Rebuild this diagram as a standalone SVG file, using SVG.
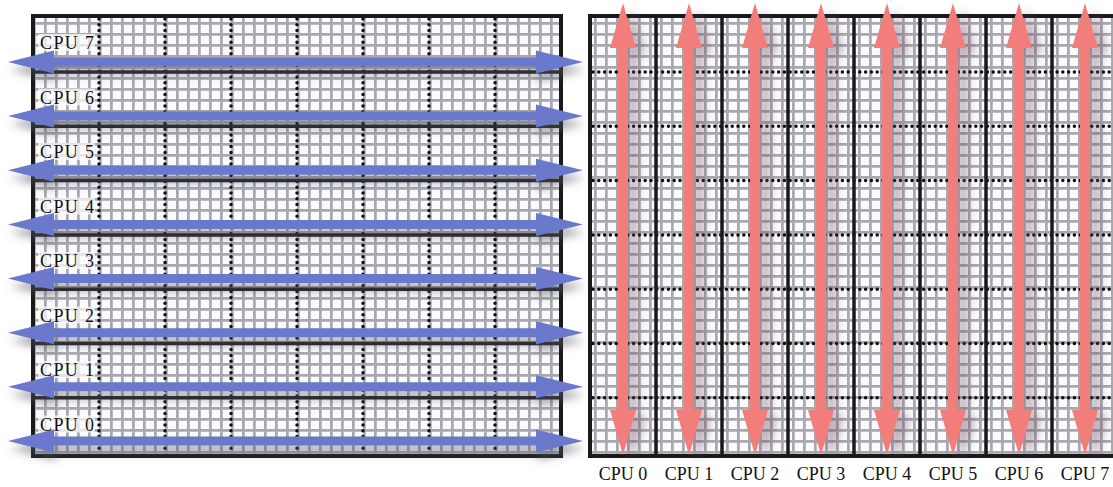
<svg xmlns="http://www.w3.org/2000/svg" width="1113" height="487" viewBox="0 0 1113 487">
<style>
.grid{fill:url(#cells);}
.frame{fill:none;stroke:#1a1a1a;stroke-width:4;}
.div{stroke:#1a1a1a;stroke-width:3.5;}
.dots{stroke:#0d0d0d;stroke-width:3.5;stroke-dasharray:0 5.8;stroke-linecap:round;fill:none;}
.lbl{font-family:"Liberation Serif","DejaVu Serif",serif;fill:#111;}
.lbl-l{font-size:18px;}
.lbl-b{font-size:18px;text-anchor:middle;}
.lblbg{fill:#fff;opacity:0.7;}
.blue{fill:#6b79cc;}
.red{fill:#f27e7c;}
</style>
<defs>
<pattern id="cells" width="11" height="11" patternUnits="userSpaceOnUse">
<rect width="11" height="11" fill="#fbfbfd"/>
<path d="M0 1H11M1 0V11" stroke="#a8a8ae" stroke-width="3.5"/>
</pattern>
<filter id="shB" x="-10%" y="-100%" width="120%" height="400%">
<feDropShadow dx="2" dy="8" stdDeviation="4" flood-color="#555566" flood-opacity="0.5"/>
</filter>
<filter id="shR" x="-150%" y="-10%" width="400%" height="120%">
<feDropShadow dx="10" dy="6" stdDeviation="4" flood-color="#6a4a60" flood-opacity="0.4"/>
</filter>
<polygon id="harrow" points="8,0 54,-11.5 54,-4.5 536,-4.5 536,-11.5 583,0 536,11.5 536,4.5 54,4.5 54,11.5"/>
<polygon id="varrow" points="0,3 13,48 5,48 5,410 13,410 0,455 -13,410 -5,410 -5,48 -13,48"/>
</defs>
<rect width="1113" height="487" fill="#fff"/>

<g id="left-panel">
<rect class="grid" x="33" y="16" width="528" height="440"/>
<g id="left-dots">
<line class="dots" x1="99" y1="19" x2="99" y2="454"/>
<line class="dots" x1="165" y1="19" x2="165" y2="454"/>
<line class="dots" x1="231" y1="19" x2="231" y2="454"/>
<line class="dots" x1="297" y1="19" x2="297" y2="454"/>
<line class="dots" x1="363" y1="19" x2="363" y2="454"/>
<line class="dots" x1="429" y1="19" x2="429" y2="454"/>
<line class="dots" x1="495" y1="19" x2="495" y2="454"/>
</g>
<g id="left-dividers">
<line class="div" x1="33" y1="72" x2="561" y2="72"/>
<line class="div" x1="33" y1="126.3" x2="561" y2="126.3"/>
<line class="div" x1="33" y1="180.6" x2="561" y2="180.6"/>
<line class="div" x1="33" y1="234.9" x2="561" y2="234.9"/>
<line class="div" x1="33" y1="289.2" x2="561" y2="289.2"/>
<line class="div" x1="33" y1="343.5" x2="561" y2="343.5"/>
<line class="div" x1="33" y1="397.8" x2="561" y2="397.8"/>
</g>
<rect class="frame" x="33" y="16" width="528" height="440"/>
</g>

<g id="row-cpu7"><rect class="lblbg" x="38" y="34" width="57" height="17"/><text class="lbl lbl-l" x="40" y="49" textLength="54" lengthAdjust="spacing">CPU 7</text></g>
<g id="row-cpu6"><rect class="lblbg" x="38" y="88.5" width="57" height="17"/><text class="lbl lbl-l" x="40" y="103.5" textLength="54" lengthAdjust="spacing">CPU 6</text></g>
<g id="row-cpu5"><rect class="lblbg" x="38" y="143" width="57" height="17"/><text class="lbl lbl-l" x="40" y="158" textLength="54" lengthAdjust="spacing">CPU 5</text></g>
<g id="row-cpu4"><rect class="lblbg" x="38" y="197.5" width="57" height="17"/><text class="lbl lbl-l" x="40" y="212.5" textLength="54" lengthAdjust="spacing">CPU 4</text></g>
<g id="row-cpu3"><rect class="lblbg" x="38" y="252" width="57" height="17"/><text class="lbl lbl-l" x="40" y="267" textLength="54" lengthAdjust="spacing">CPU 3</text></g>
<g id="row-cpu2"><rect class="lblbg" x="38" y="306.5" width="57" height="17"/><text class="lbl lbl-l" x="40" y="321.5" textLength="54" lengthAdjust="spacing">CPU 2</text></g>
<g id="row-cpu1"><rect class="lblbg" x="38" y="361" width="57" height="17"/><text class="lbl lbl-l" x="40" y="376" textLength="54" lengthAdjust="spacing">CPU 1</text></g>
<g id="row-cpu0"><rect class="lblbg" x="38" y="415.5" width="57" height="17"/><text class="lbl lbl-l" x="40" y="430.5" textLength="54" lengthAdjust="spacing">CPU 0</text></g>

<g id="right-panel">
<rect class="grid" x="590" y="16" width="528" height="440"/>
<g id="right-dots">
<line class="dots" x1="593" y1="72" x2="1113" y2="72"/>
<line class="dots" x1="593" y1="126.3" x2="1113" y2="126.3"/>
<line class="dots" x1="593" y1="180.6" x2="1113" y2="180.6"/>
<line class="dots" x1="593" y1="234.9" x2="1113" y2="234.9"/>
<line class="dots" x1="593" y1="289.2" x2="1113" y2="289.2"/>
<line class="dots" x1="593" y1="343.5" x2="1113" y2="343.5"/>
<line class="dots" x1="593" y1="397.8" x2="1113" y2="397.8"/>
</g>
<g id="right-dividers">
<line class="div" x1="656" y1="16" x2="656" y2="456"/>
<line class="div" x1="722" y1="16" x2="722" y2="456"/>
<line class="div" x1="788" y1="16" x2="788" y2="456"/>
<line class="div" x1="854" y1="16" x2="854" y2="456"/>
<line class="div" x1="920" y1="16" x2="920" y2="456"/>
<line class="div" x1="986" y1="16" x2="986" y2="456"/>
<line class="div" x1="1052" y1="16" x2="1052" y2="456"/>
</g>
<rect class="frame" x="590" y="16" width="528" height="440"/>
</g>

<g id="col-cpu0"><text class="lbl lbl-b" x="623" y="480">CPU 0</text></g>
<g id="col-cpu1"><text class="lbl lbl-b" x="689" y="480">CPU 1</text></g>
<g id="col-cpu2"><text class="lbl lbl-b" x="755" y="480">CPU 2</text></g>
<g id="col-cpu3"><text class="lbl lbl-b" x="821" y="480">CPU 3</text></g>
<g id="col-cpu4"><text class="lbl lbl-b" x="887" y="480">CPU 4</text></g>
<g id="col-cpu5"><text class="lbl lbl-b" x="953" y="480">CPU 5</text></g>
<g id="col-cpu6"><text class="lbl lbl-b" x="1019" y="480">CPU 6</text></g>
<g id="col-cpu7"><text class="lbl lbl-b" x="1085" y="480">CPU 7</text></g>

<g id="connectors">
<g id="row-arrows" class="blue" filter="url(#shB)">
<use href="#harrow" transform="translate(0,62)"/>
<use href="#harrow" transform="translate(0,116.1)"/>
<use href="#harrow" transform="translate(0,170.3)"/>
<use href="#harrow" transform="translate(0,224.4)"/>
<use href="#harrow" transform="translate(0,278.6)"/>
<use href="#harrow" transform="translate(0,332.7)"/>
<use href="#harrow" transform="translate(0,386.8)"/>
<use href="#harrow" transform="translate(0,441)"/>
</g>
<g id="col-arrows" class="red" filter="url(#shR)">
<use href="#varrow" transform="translate(623,0)"/>
<use href="#varrow" transform="translate(689,0)"/>
<use href="#varrow" transform="translate(755,0)"/>
<use href="#varrow" transform="translate(821,0)"/>
<use href="#varrow" transform="translate(887,0)"/>
<use href="#varrow" transform="translate(953,0)"/>
<use href="#varrow" transform="translate(1019,0)"/>
<use href="#varrow" transform="translate(1085,0)"/>
</g>
</g>
</svg>
